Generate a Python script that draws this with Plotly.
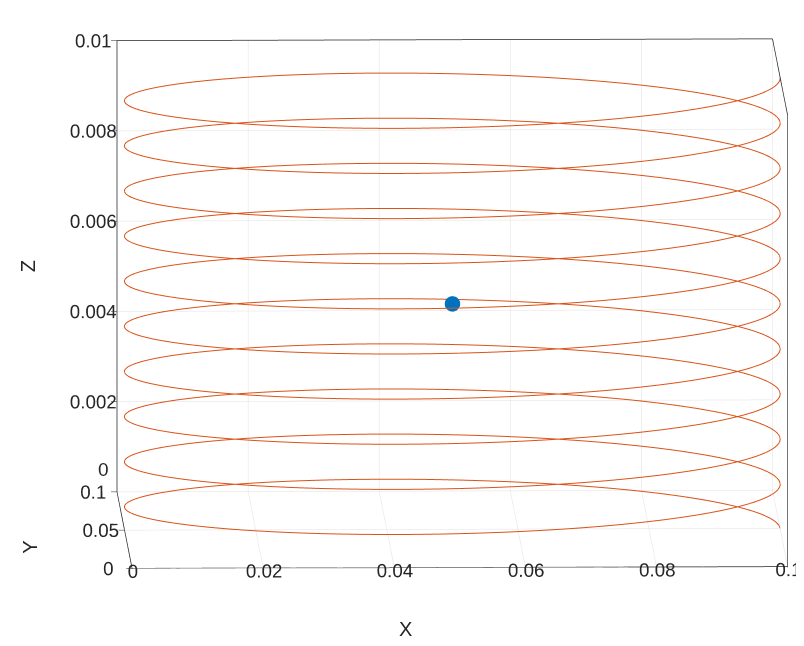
import numpy as np
import plotly.graph_objects as go

# Helix parameters
center_x = 0.05
center_y = 0.05
radius = 0.05
pitch = 0.001        # rise per turn
n_turns = 10
# marked point
point_x = [0.05]
point_y = [0.05]
point_z = [0.005]

# tick labels
x_ticks = [0, 0.02, 0.04, 0.06, 0.08, 0.1]
x_ticktext = ["0", "0.02", "0.04", "0.06", "0.08", "0.1"]
y_ticks = [0, 0.05, 0.1]
y_ticktext = ["0", "0.05", "0.1"]
z_ticks = [0, 0.002, 0.004, 0.006, 0.008, 0.01]
z_ticktext = ["0", "0.002", "0.004", "0.006", "0.008", "0.01"]

t = np.linspace(0, 2 * np.pi * n_turns, 3001)
hx = center_x + radius * np.cos(t)
hy = center_y + radius * np.sin(t)
hz = pitch * t / (2 * np.pi)

fig = go.Figure()
fig.add_trace(go.Scatter3d(x=hx, y=hy, z=hz, mode="lines",
                           line=dict(color="#D95319", width=2),
                           showlegend=False, hoverinfo="skip"))
fig.add_trace(go.Scatter3d(x=point_x, y=point_y, z=point_z, mode="markers",
                           marker=dict(color="#0072BD", size=9, line=dict(width=0)),
                           showlegend=False))

font = dict(family="Liberation Sans, Arial, sans-serif", size=15, color="#262626")
ann_font = dict(family="Liberation Sans, Arial, sans-serif", size=19, color="#262626")
title_font = dict(family="Liberation Sans, Arial, sans-serif", size=20, color="#262626")
axis_common = dict(showbackground=False, showline=True, linecolor="#262626", linewidth=1.5,
                   mirror=True, gridcolor="#e0e0e0", gridwidth=1, zeroline=False,
                   showspikes=False, ticks="outside", tickcolor="#262626", ticklen=6,
                   tickangle=0, tickfont=font, title=dict(text=""))

el = np.deg2rad(6.7)
az = np.deg2rad(1.32)
D = 5.0
eye_dir = np.array([-np.sin(az) * np.cos(el), -np.cos(az) * np.cos(el), np.sin(el)])
cen = np.array([-0.131, 0.0, -0.085])
eye_v = cen + D * eye_dir
k = 2.03

# z "0" label is drawn as an annotation so it does not sit on top of the y "0.1" label
z_text = ["" if s == "0" else s for s in z_ticktext]

annotations = [
    dict(x=0, y=0.1, z=0, text=z_ticktext[0], showarrow=False, font=ann_font,
         xanchor="right", yanchor="middle", xshift=-6, yshift=22),
    dict(x=0.05, y=0, z=0, text="X", showarrow=False, font=title_font,
         xshift=-54, yshift=-61),
    dict(x=0, y=0.05, z=0, text="Y", showarrow=False, font=title_font,
         textangle=-90, xshift=-94, yshift=-17),
    dict(x=0, y=0.1, z=0.005, text="Z", showarrow=False, font=title_font,
         textangle=-90, xshift=-89, yshift=0),
]

fig.update_layout(
    width=804, height=646,
    paper_bgcolor="white",
    margin=dict(l=0, r=0, t=0, b=0),
    font=font,
    scene=dict(
        domain=dict(x=[0, 1.0], y=[0, 1.0]),
        xaxis=dict(range=[0, 0.1], tickvals=x_ticks, ticktext=x_ticktext, **axis_common),
        yaxis=dict(range=[0, 0.1], tickvals=y_ticks, ticktext=y_ticktext, **axis_common),
        zaxis=dict(range=[0, 0.01], tickvals=z_ticks, ticktext=z_text, **axis_common),
        aspectmode="manual",
        aspectratio=dict(x=k, y=k, z=0.693 * k),
        camera=dict(projection=dict(type="orthographic"),
                    eye=dict(x=eye_v[0], y=eye_v[1], z=eye_v[2]),
                    up=dict(x=0, y=0, z=1),
                    center=dict(x=cen[0], y=cen[1], z=cen[2])),
        annotations=annotations,
    ),
)

fig.write_html("out.html")
